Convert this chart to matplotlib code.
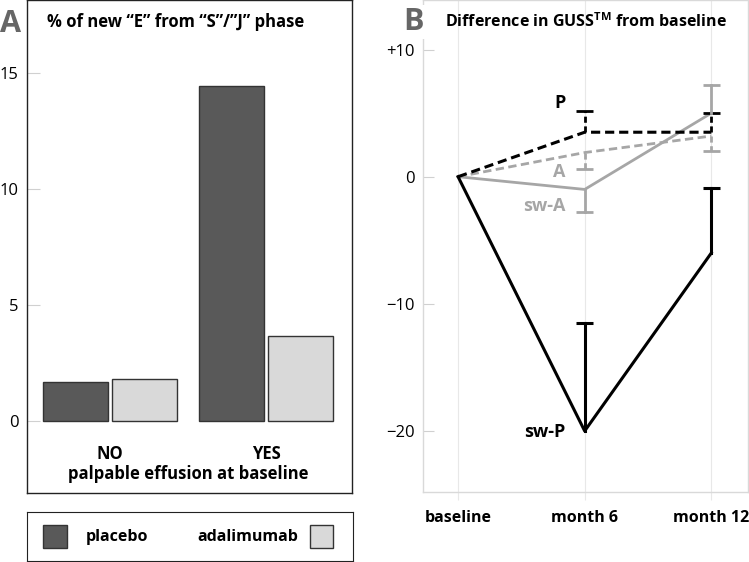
import matplotlib.pyplot as plt

plt.rcParams['font.family'] = ['Open Sans', 'DejaVu Sans']

# ---- data ----
groups = ["NO", "YES"]
placebo_pct = [1.68, 14.45]
adalimumab_pct = [1.8, 3.66]

timepoints = ["baseline", "month 6", "month 12"]
p_mean = [0, 3.5, 3.5]
p_err_hi = [0, 5.2, 5.0]
a_mean = [0, 1.9, 3.2]
a_err_lo = [0, 0.6, 2.0]
swa_mean = [0, -1.0, 5.0]
swa_err = [0, -2.8, 7.2]
swp_mean = [0, -20.0, -6.0]
swp_err_hi = [0, -11.5, -0.9]

DARK = "#595959"
LIGHT = "#d9d9d9"
GRAY = "#a6a6a6"

W, H = 749, 562
fig = plt.figure(figsize=(W / 100, H / 100), dpi=100)


def px_axes(x0, y0, x1, y1):
    return fig.add_axes([x0 / W, 1 - y1 / H, (x1 - x0) / W, (y1 - y0) / H])


def px_text(x, y, s, **kw):
    return fig.text(x / W, 1 - y / H, s, **kw)


# ---- panel A ----
axA = px_axes(27, 0, 352, 493)
xs = range(len(groups))
off, bw = 0.222, 0.415
axA.bar([x - off for x in xs], placebo_pct, width=bw, color=DARK, edgecolor="#333333", lw=1)
axA.bar([x + off for x in xs], adalimumab_pct, width=bw, color=LIGHT, edgecolor="#333333", lw=1)
axA.set_xlim(-0.532, 1.551)
axA.set_ylim(-3.1, 18.15)
axA.set_yticks([0, 5, 10, 15])
axA.set_xticks([])
axA.tick_params(axis="y", direction="in", length=9, color="#d0d0d0", labelsize=12, pad=6)
for s in axA.spines.values():
    s.set_color("#222222")
    s.set_linewidth(1)
for x, g in zip(xs, groups):
    axA.text(x, -1.4, g, ha="center", va="center", fontsize=12, fontweight="bold")
axA.text(0.5, -2.27, "palpable effusion at baseline", ha="center", va="center",
         fontsize=12, fontweight="bold")
px_text(47, 22, "% of new \u201cE\u201d from \u201cS\u201d/\u201dJ\u201d phase",
        ha="left", va="center", fontsize=12, fontweight="bold")
px_text(0, 24, "A", fontsize=22, fontweight="bold", color="#666666",
        ha="left", va="center", bbox=dict(fc="white", ec="none", pad=1))

# legend box
axL = px_axes(27, 512, 353, 561)
axL.set_xlim(27, 353)
axL.set_ylim(561, 512)
axL.set_xticks([])
axL.set_yticks([])
for s in axL.spines.values():
    s.set_color("#222222")
axL.bar([55], [23], bottom=[525], width=24, color=DARK, edgecolor="#333333")
axL.bar([321.5], [23], bottom=[525], width=23, color=LIGHT, edgecolor="#333333")
axL.text(86, 537, "placebo", ha="left", va="center", fontsize=11.5, fontweight="bold")
axL.text(298, 537, "adalimumab", ha="right", va="center", fontsize=11.5, fontweight="bold")

# ---- panel B ----
axB = px_axes(423, 0, 748, 492)
tx = range(len(timepoints))
for x in tx:
    axB.axvline(x, color="#e8e8e8", lw=0.8, zorder=0)


def errbar(ax, x, y0, y1, color, ls, lw):
    if ls == "--":
        ax.plot([x, x], [y0, y1], color=color, lw=lw, ls="--", dashes=(2.2, 1.3))
    else:
        ax.plot([x, x], [y0, y1], color=color, lw=lw)
    ax.plot([x - 0.065, x + 0.065], [y1, y1], color=color, lw=lw, solid_capstyle="butt")


axB.plot(tx, swp_mean, color="black", lw=2.2, zorder=3)
axB.plot(tx, swa_mean, color=GRAY, lw=2, zorder=2)
axB.plot(tx, a_mean, color=GRAY, lw=2, ls="--", dashes=(3, 1.6), zorder=2)
axB.plot(tx, p_mean, color="black", lw=2.2, ls="--", dashes=(3, 1.6), zorder=3)
for i in (1, 2):
    errbar(axB, i, p_mean[i], p_err_hi[i], "black", "--", 2)
    errbar(axB, i, a_mean[i], a_err_lo[i], GRAY, "--", 2)
    errbar(axB, i, swa_mean[i], swa_err[i], GRAY, "-", 2)
    errbar(axB, i, swp_mean[i], swp_err_hi[i], "black", "-", 2.2)

axB.text(0.85, 5.8, "P", fontsize=13, fontweight="bold", color="black", ha="right", va="center")
axB.text(0.85, 0.4, "A", fontsize=13, fontweight="bold", color=GRAY, ha="right", va="center")
axB.text(0.85, -2.3, "sw-A", fontsize=13, fontweight="bold", color=GRAY, ha="right", va="center")
axB.text(0.85, -20.1, "sw-P", fontsize=13, fontweight="bold", color="black", ha="right", va="center")

axB.set_xlim(-0.277, 2.29)
axB.set_ylim(-24.8, 13.9)
axB.set_yticks([10, 0, -10, -20])
axB.set_yticklabels(["+10", "0", "\u221210", "\u221220"])
axB.set_xticks(list(tx))
axB.set_xticklabels(timepoints, fontsize=11.5, fontweight="bold")
axB.tick_params(axis="y", direction="in", length=8, color="#d0d0d0", labelsize=12, pad=6)
axB.tick_params(axis="x", direction="out", length=6, color="#e8e8e8", pad=7)
for s in axB.spines.values():
    s.set_color("#d9d9d9")
    s.set_linewidth(1)
px_text(445, 22, "Difference in GUSS$^{\\mathregular{TM}}$ from baseline",
        ha="left", va="center", fontsize=11.5, fontweight="bold")
px_text(403, 22, "B", fontsize=22, fontweight="bold", color="#666666",
        ha="left", va="center", bbox=dict(fc="white", ec="none", pad=1))

fig.savefig("out.png", dpi=100)
